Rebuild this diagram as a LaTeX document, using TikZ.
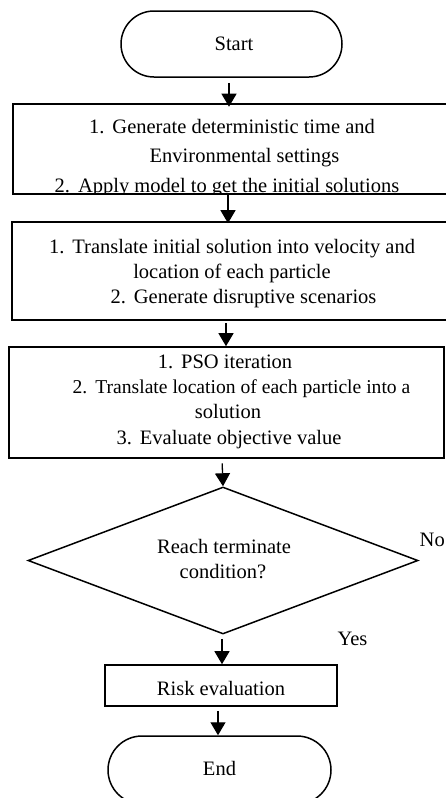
\documentclass[tikz,border=0pt]{standalone}
\usepackage{fontspec}
\setmainfont{Liberation Serif}
\usetikzlibrary{arrows.meta,shapes.geometric}
\begin{document}
\begin{tikzpicture}[x=1pt,y=-1pt,
  term/.style={draw,line width=1.5pt,rounded corners=33pt,inner sep=0pt},
  stepbox/.style={draw,line width=1.6pt,inner sep=0pt},
  decision/.style={draw,diamond,line width=1.5pt,inner sep=0pt},
  txt/.style={anchor=base,inner sep=0pt,font=\fontsize{20.5}{25}\selectfont},
  arr/.style={line width=1.3pt,-{Triangle[length=13pt,width=15pt]}},
]
\clip (0,0) rectangle (446,798);
\fill[white] (0,0) rectangle (446,798);

% shapes
\node[term,minimum width=221pt,minimum height=66pt] (start) at (231.5,44) {};
\node[stepbox,minimum width=435pt,minimum height=90pt] (b1) at (230.5,149) {};
\node[stepbox,minimum width=436pt,minimum height=98pt] (b2) at (230,271) {};
\node[stepbox,minimum width=435pt,minimum height=111pt] (b3) at (226.5,402.5) {};
\node[decision,minimum width=390pt,minimum height=147pt] (dec) at (223,560.5) {};
\node[stepbox,minimum width=232pt,minimum height=41pt] (risk) at (221,685.5) {};
\node[term,minimum width=223pt,minimum height=68pt,rounded corners=34pt] (end) at (219.5,770) {};

% texts
\node[txt] (tstart) at (234,50) {Start};
\begin{scope}
\clip (13,104) rectangle (448,194);
\node[txt] (t1a) at (232,133) {1.\hspace{8pt}Generate deterministic time and};
\node[txt] (t1b) at (244.5,162) {Environmental settings};
\node[txt] (t1c) at (227,192) {2.\hspace{8pt}Apply model to get the initial solutions};
\end{scope}
\node[txt] (t2a) at (232,253) {1.\hspace{8pt}Translate initial solution into velocity and};
\node[txt] (t2b) at (232,278) {location of each particle};
\node[txt] (t2c) at (243.5,303) {2.\hspace{8pt}Generate disruptive scenarios};
\node[txt] (t3a) at (225,368) {1.\hspace{8pt}PSO iteration};
\node[txt,font=\fontsize{19.6}{25}\selectfont] (t3b) at (241.5,393) {2.\hspace{8pt}Translate location of each particle into a};
\node[txt] (t3c) at (228,418) {solution};
\node[txt] (t3d) at (229,444) {3.\hspace{8pt}Evaluate objective value};
\node[txt] (tdeca) at (224,553) {Reach terminate};
\node[txt] (tdecb) at (223,578) {condition?};
\node[txt] (trisk) at (221,695) {Risk evaluation};
\node[txt] (tend) at (219.5,775) {End};
\node[txt,anchor=base west] (tno) at (419.5,546) {No};
\node[txt] (tyes) at (352.5,645) {Yes};

% connectors
\coordinate (xa) at (229,0);
\coordinate (xb) at (228,0);
\coordinate (xc) at (226,0);
\coordinate (xd) at (222,0);
\coordinate (xe) at (218,0);
\draw[arr,shorten <=5pt,shorten >=-3.5pt] (start.south -| xa) -- (b1.north -| xa);
\draw[arr,shorten >=-2pt] (b1.south -| xb) -- (b2.north -| xb);
\draw[arr,shorten <=2.5pt] (b2.south -| xc) -- (b3.north -| xc);
\draw[arr,shorten <=4.5pt] (b3.south -| xd) -- (dec.north);
\draw[arr,shorten <=4pt] (dec.south -| xd) -- (risk.north -| xd);
\draw[arr,shorten <=4pt] (risk.south -| xe) -- (end.north -| xe);
\end{tikzpicture}
\end{document}
